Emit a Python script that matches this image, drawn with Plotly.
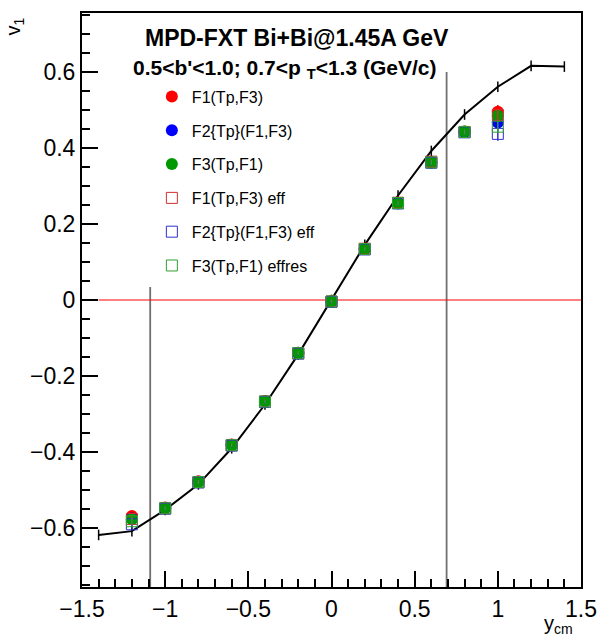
import plotly.graph_objects as go

# ---- data ----
y_cm = [-1.2, -1.0, -0.8, -0.6, -0.4, -0.2, 0.0, 0.2, 0.4, 0.6, 0.8, 1.0]

f1_v1 = [-0.568, -0.546, -0.477, -0.380, -0.266, -0.139, -0.003, 0.135, 0.256, 0.363, 0.443, 0.495]
f2_v1 = [-0.575, -0.547, -0.478, -0.381, -0.267, -0.140, -0.004, 0.134, 0.255, 0.362, 0.442, 0.467]
f3_v1 = [-0.577, -0.548, -0.479, -0.382, -0.267, -0.139, -0.003, 0.134, 0.254, 0.362, 0.443, 0.485]
f1e_v1 = [-0.576, -0.548, -0.479, -0.382, -0.267, -0.140, -0.004, 0.135, 0.256, 0.364, 0.442, 0.487]
f2e_v1 = [-0.590, -0.549, -0.480, -0.383, -0.268, -0.141, -0.005, 0.133, 0.254, 0.361, 0.441, 0.437]
f3e_v1 = [-0.582, -0.548, -0.479, -0.382, -0.267, -0.140, -0.004, 0.134, 0.255, 0.362, 0.442, 0.456]

f1_err = [0.010, 0.005, 0.005, 0.005, 0.005, 0.005, 0.005, 0.005, 0.005, 0.006, 0.007, 0.018]
f2_err = [0.010, 0.005, 0.005, 0.005, 0.005, 0.005, 0.005, 0.005, 0.005, 0.006, 0.007, 0.015]
f3_err = [0.010, 0.005, 0.005, 0.005, 0.005, 0.005, 0.005, 0.005, 0.005, 0.006, 0.007, 0.015]
f1e_err = [0.010, 0.005, 0.005, 0.005, 0.005, 0.005, 0.005, 0.005, 0.005, 0.006, 0.007, 0.015]
f2e_err = [0.012, 0.005, 0.005, 0.005, 0.005, 0.005, 0.005, 0.005, 0.005, 0.006, 0.007, 0.018]
f3e_err = [0.010, 0.005, 0.005, 0.005, 0.005, 0.005, 0.005, 0.005, 0.005, 0.006, 0.007, 0.015]

model_x = [-1.4, -1.2, -1.0, -0.8, -0.6, -0.4, -0.2, 0.0, 0.2, 0.4, 0.6, 0.8, 1.0, 1.2, 1.4]
model_v1 = [-0.618, -0.608, -0.552, -0.485, -0.390, -0.275, -0.143, 0.0, 0.145, 0.275, 0.392, 0.488, 0.561, 0.616, 0.614]
model_err = [0.014] * 15

cut_x = [-1.09, 0.692]
cut_top = [0.034, 0.60]
y_min, y_max = -0.755, 0.755
zero_line_x = [-1.4, 1.5]

series = [
    ("F1(Tp,F3)", f1_v1, f1_err, "circle", "#ff0000", 12),
    ("F2{Tp}(F1,F3)", f2_v1, f2_err, "circle", "#0000ff", 12),
    ("F3(Tp,F1)", f3_v1, f3_err, "circle", "#009a00", 12),
    ("F1(Tp,F3) eff", f1e_v1, f1e_err, "square-open", "#d03030", 11),
    ("F2{Tp}(F1,F3) eff", f2e_v1, f2e_err, "square-open", "#3030d0", 11),
    ("F3(Tp,F1) effres", f3e_v1, f3e_err, "square-open", "#30a030", 11),
]

fig = go.Figure()

# grey acceptance lines
for cx, ct in zip(cut_x, cut_top):
    fig.add_trace(go.Scatter(x=[cx, cx], y=[y_min, ct], mode="lines",
                             line=dict(color="#707070", width=1.8), showlegend=False, hoverinfo="skip"))
# red zero line
fig.add_trace(go.Scatter(x=zero_line_x, y=[0, 0], mode="lines",
                         line=dict(color="#ff0000", width=1), showlegend=False, hoverinfo="skip"))
# model curve
fig.add_trace(go.Scatter(x=model_x, y=model_v1, mode="lines",
                         line=dict(color="black", width=2),
                         error_y=dict(type="data", array=model_err, color="black", thickness=1.5, width=0),
                         showlegend=False))

for i, (name, vals, errs, sym, col, sz) in enumerate(series):
    open_ = "open" in sym
    fig.add_trace(go.Scatter(
        x=y_cm, y=vals, mode="markers", name=name, legendgroup=f"g{i}",
        marker=dict(symbol=sym, size=sz, color=col,
                    line=dict(color=col, width=1 if open_ else 0)),
        error_y=dict(type="data", array=errs, color=col, thickness=1.5, width=0),
    ))

fig.update_layout(
    width=608, height=637,
    margin=dict(l=82, r=21, t=11, b=50),
    plot_bgcolor="white", paper_bgcolor="white",
    font=dict(family="Liberation Sans, Arial, sans-serif", color="black"),
    showlegend=True,
    legend=dict(x=0.14, y=0.884, xanchor="left", yanchor="top",
                font=dict(size=16), tracegroupgap=10, bgcolor="rgba(0,0,0,0)",
                itemwidth=30),
    xaxis=dict(range=[-1.5, 1.5], tick0=-1.5, dtick=0.5, ticks="inside", ticklen=16,
               tickwidth=2, tickcolor="black", showline=True, linecolor="black", linewidth=2,
               mirror=True, showgrid=False, zeroline=False, tickfont=dict(size=23),
               minor=dict(dtick=0.1, ticks="inside", ticklen=8, tickwidth=2, tickcolor="black", showgrid=False)),
    yaxis=dict(range=[y_min, y_max], tick0=0, dtick=0.2, ticks="inside", ticklen=16,
               tickwidth=2, tickcolor="black", showline=True, linecolor="black", linewidth=2,
               mirror=True, showgrid=False, zeroline=False, tickfont=dict(size=23),
               minor=dict(dtick=0.05, ticks="inside", ticklen=8, tickwidth=2, tickcolor="black", showgrid=False)),
    annotations=[
        dict(text="<b>MPD-FXT Bi+Bi@1.45A GeV</b>", xref="paper", yref="paper",
             x=0.43, y=0.957, xanchor="center", yanchor="middle", showarrow=False, font=dict(size=23)),
        dict(text="<b>0.5&lt;b'&lt;1.0; 0.7&lt;p <sub>T</sub>&lt;1.3 (GeV/c)</b>", xref="paper", yref="paper",
             x=0.098, y=0.903, xanchor="left", yanchor="middle", showarrow=False, font=dict(size=21)),
        dict(text="v<sub>1</sub>", xref="paper", yref="paper", x=-0.135, y=0.995,
             xanchor="center", yanchor="top", textangle=-90, showarrow=False, font=dict(size=20)),
        dict(text="y<sub>cm</sub>", xref="paper", yref="paper", x=0.955, y=-0.09,
             xanchor="center", yanchor="bottom", showarrow=False, font=dict(size=20)),
    ],
)

fig.write_html("out.html")
